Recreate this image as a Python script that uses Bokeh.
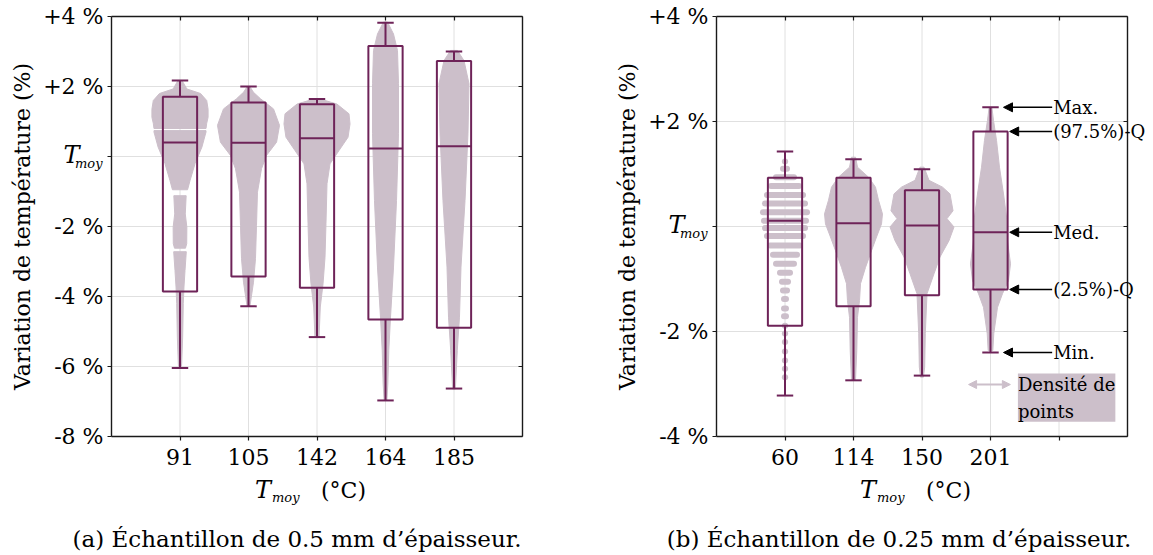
import numpy as np
from bokeh.plotting import figure
from bokeh.layouts import row
from bokeh.models import FixedTicker, LinearAxis, Label, Arrow, NormalHead, Range1d
from bokeh.embed import file_html
from bokeh.resources import INLINE

# ---------------- data: panel (a) 0.5 mm ----------------
cats_a = ["91", "105", "142", "164", "185"]
min_a = [-6.04, -4.28, -5.16, -6.97, -6.63]
q025_a = [-3.86, -3.43, -3.75, -4.66, -4.89]
med_a = [0.40, 0.39, 0.52, 0.23, 0.29]
q975_a = [1.71, 1.54, 1.49, 3.16, 2.73]
max_a = [2.17, 2.00, 1.64, 3.82, 3.00]

# point-density profiles: (value %, half width in category units); None = gap
dens_91 = [(2.17, 0.03), (1.93, 0.10), (1.80, 0.30), (1.60, 0.39), (1.35, 0.41), (1.12, 0.41),
           (0.95, 0.39), (0.80, 0.38), None,
           (0.74, 0.38), (0.70, 0.38), (0.27, 0.32), (-0.20, 0.22), (-0.69, 0.146), (-0.95, 0.11), None,
           (-1.12, 0.09), (-1.64, 0.077), (-2.02, 0.10), (-2.49, 0.098), (-2.62, 0.08), None,
           (-2.72, 0.092), (-3.26, 0.073), (-3.73, 0.058), (-4.20, 0.048), (-5.16, 0.039),
           (-5.90, 0.025), (-6.04, 0.02)]
dens_105 = [(2.00, 0.02), (1.84, 0.07), (1.65, 0.175), (1.36, 0.365), (0.89, 0.453), (0.41, 0.41),
            (0.03, 0.263), (-0.35, 0.19), (-1.02, 0.131), (-1.97, 0.117), (-2.92, 0.102),
            (-3.59, 0.073), (-4.16, 0.03), (-4.28, 0.02)]
dens_142 = [(1.64, 0.05), (1.50, 0.29), (1.22, 0.467), (0.93, 0.482), (0.55, 0.453), (0.17, 0.321),
            (-0.21, 0.19), (-0.78, 0.146), (-1.92, 0.131), (-2.88, 0.117), (-3.64, 0.088),
            (-4.30, 0.048), (-5.16, 0.03)]
dens_164 = [(3.84, 0.03), (3.50, 0.117), (3.03, 0.175), (2.08, 0.19), (0.65, 0.19), (-1.26, 0.161),
            (-3.16, 0.117), (-4.59, 0.073), (-5.54, 0.048), (-6.50, 0.034), (-6.97, 0.02)]
dens_185 = [(3.03, 0.05), (2.74, 0.146), (2.08, 0.219), (0.65, 0.204), (-1.26, 0.161),
            (-3.16, 0.102), (-4.59, 0.08), (-5.54, 0.048), (-6.64, 0.02)]

# ---------------- data: panel (b) 0.25 mm ----------------
cats_b = ["60", "114", "150", "201"]
min_b = [-3.22, -2.93, -2.84, -2.40]
q025_b = [-1.89, -1.52, -1.31, -1.20]
med_b = [0.11, 0.06, 0.02, -0.11]
q975_b = [0.93, 0.93, 0.69, 1.81]
max_b = [1.43, 1.28, 1.09, 2.27]

# sample 60 has quantised values: rows of points (value %, half width)
rows_60 = [(1.24, 0.039), (1.10, 0.073), (0.94, 0.175), (0.77, 0.248), (0.60, 0.307), (0.44, 0.336),
           (0.27, 0.365), (0.11, 0.35), (-0.03, 0.336), (-0.18, 0.307), (-0.36, 0.263),
           (-0.54, 0.219), (-0.71, 0.175), (-0.88, 0.117), (-1.05, 0.088), (-1.22, 0.073),
           (-1.38, 0.058), (-1.56, 0.058), (-1.71, 0.058), (-1.89, 0.044), (-2.04, 0.039),
           (-2.20, 0.039), (-2.38, 0.039), (-2.55, 0.039), (-2.71, 0.039), (-2.87, 0.039)]
dens_114 = [(1.32, 0.03), (1.13, 0.058), (0.94, 0.219), (0.75, 0.321), (0.50, 0.365), (0.24, 0.423),
            (0.05, 0.409), (-0.20, 0.336), (-0.46, 0.263), (-0.78, 0.175), (-1.09, 0.102),
            (-1.41, 0.088), (-1.73, 0.058), (-2.36, 0.048), (-2.93, 0.029)]
dens_150 = [(1.13, 0.03), (0.88, 0.102), (0.75, 0.30), (0.62, 0.409), (0.30, 0.453), (0.15, 0.365),
            (-0.01, 0.467), (-0.27, 0.394), (-0.58, 0.263), (-0.90, 0.175), (-1.28, 0.073),
            (-2.04, 0.048), (-2.68, 0.039), (-2.87, 0.02)]
dens_201 = [(2.27, 0.02), (2.02, 0.044), (1.64, 0.088), (1.13, 0.131), (0.62, 0.19), (0.18, 0.234),
            (-0.27, 0.248), (-0.71, 0.292), (-1.03, 0.263), (-1.28, 0.175), (-1.54, 0.102),
            (-2.04, 0.048), (-2.36, 0.034)]

ann_texts = ["Max.", "(97.5%)-Q", "Med.", "(2.5%)-Q", "Min."]
ylabel = "Variation de température (%)"
caption_a = "(a) Échantillon de 0.5 mm d’épaisseur."
caption_b = "(b) Échantillon de 0.25 mm d’épaisseur."

# ---------------- styles ----------------
FONT = "DejaVu Serif"
FS = "22px"
VIOLIN = "#CCBFCA"
BOXC = "#6E2358"
GRID = "#E0E0E0"
FRAME = "#1a1a1a"
BOX_HW = 0.25
CAP_HW = 0.12
PX_X = 68.5              # pixels per category unit
BOX_W, BOX_H = 411, 420  # plotting box size in pixels
H = 552


def violin_polys(xc, prof):
    pieces, cur = [], []
    for e in prof:
        if e is None:
            pieces.append(cur)
            cur = []
        else:
            cur.append(e)
    pieces.append(cur)
    xs, ys = [], []
    for pc in pieces:
        pc = sorted(pc)
        v = [a for a, b in pc]
        w = [b for a, b in pc]
        xs.append([xc + wi for wi in w] + [xc - wi for wi in reversed(w)])
        ys.append(v + v[::-1])
    return xs, ys


def lab(p, x, y, text, dx=0, dy=0, size=FS, style="normal", align="left", angle=0):
    p.add_layout(Label(x=x, y=y, x_offset=dx, y_offset=dy, text=text, text_font=FONT,
                       text_font_size=size, text_font_style=style, text_align=align,
                       text_baseline="middle", text_color="black", angle=angle))


def make_fig(width, left_px, ymin, ymax, yticks, xticks, xlabels, caption, cap_shift):
    top_px = 16
    px_y = BOX_H / (ymax - ymin)
    x0 = 0 - left_px / PX_X
    x1 = 6 + (width - left_px - BOX_W) / PX_X
    y1 = ymax + top_px / px_y
    y0 = ymin - (H - top_px - BOX_H) / px_y
    p = figure(width=width, height=H, x_range=Range1d(x0, x1), y_range=Range1d(y0, y1),
               output_backend="svg", toolbar_location=None,
               x_axis_location=None, y_axis_location=None, min_border=0,
               min_border_left=0, min_border_right=0, min_border_top=0, min_border_bottom=0)
    p.title.visible = False
    p.outline_line_color = None
    p.background_fill_color = "white"
    p.border_fill_color = "white"
    # remove the automatic full-canvas grids
    p.xgrid.visible = False
    p.ygrid.visible = False

    xt = FixedTicker(ticks=xticks)
    yt = FixedTicker(ticks=yticks)
    # grid lines, limited to the plotting box
    p.segment(x0=xticks, y0=[ymin] * len(xticks), x1=xticks, y1=[ymax] * len(xticks),
              line_color=GRID, line_width=1)
    p.segment(x0=[0] * len(yticks), y0=yticks, x1=[6] * len(yticks), y1=yticks,
              line_color=GRID, line_width=1)

    ylab = {}
    for t in yticks:
        if t == 0:
            ylab[t] = ""
        elif t > 0:
            ylab[t] = "+%d %%" % t
        else:
            ylab[t] = "-%d %%" % abs(t)
    common = dict(minor_tick_line_color=None, axis_line_color=FRAME, axis_line_width=1.4,
                  major_tick_line_color=FRAME, major_tick_line_width=1.2,
                  major_label_text_font=FONT,
                  major_label_text_font_size=FS, major_label_text_color="black")
    left = LinearAxis(fixed_location=0, ticker=yt, bounds=(ymin, ymax),
                      major_label_overrides=ylab, major_tick_in=0, major_tick_out=4,
                      major_label_standoff=4, **common)
    bottom = LinearAxis(fixed_location=ymin, ticker=xt, bounds=(0, 6),
                        major_label_overrides={t: l for t, l in zip(xticks, xlabels)},
                        major_tick_in=0, major_tick_out=4, major_label_standoff=8, **common)
    common["major_label_text_font_size"] = "2px"
    top = LinearAxis(fixed_location=ymax, ticker=xt, bounds=(0, 6),
                     major_label_overrides={t: "" for t in xticks},
                     major_tick_in=4, major_tick_out=0, major_label_standoff=0, **common)
    right = LinearAxis(fixed_location=6, ticker=yt, bounds=(ymin, ymax),
                       major_label_overrides={t: "" for t in yticks},
                       major_tick_in=4, major_tick_out=0, major_label_standoff=0, **common)
    p.add_layout(left, "left")
    p.add_layout(bottom, "below")
    p.add_layout(top, "above")
    p.add_layout(right, "right")

    # tick label "T_moy" at 0 (italic T + subscript)
    lab(p, 0, 0, "T", dx=-32, dy=2, size="24px", style="italic", align="right")
    lab(p, 0, 0, "moy", dx=-9, dy=-7, size="13px", style="italic", align="right")
    # y axis title
    lab(p, 0, (ymin + ymax) / 2, ylabel, dx=-89, align="center", angle=np.pi / 2)
    # x axis title "T_moy (°C)"
    lab(p, 3, ymin, "T", dx=-46, dy=-53, size="24px", style="italic", align="right")
    lab(p, 3, ymin, "moy", dx=-45, dy=-61, size="13px", style="italic", align="left")
    lab(p, 3, ymin, "(°C)", dx=4, dy=-54, align="left")
    # caption
    lab(p, 3, ymin, caption, dx=cap_shift, dy=-102, size="23px", align="center")
    return p


def draw_boxes(p, xs, mn, q1, md, q3, mx):
    xs = np.asarray(xs, dtype=float)
    p.quad(left=xs - BOX_HW, right=xs + BOX_HW, bottom=q1, top=q3, fill_alpha=0,
           line_color=BOXC, line_width=2)
    p.segment(x0=xs - BOX_HW, y0=md, x1=xs + BOX_HW, y1=md, line_color=BOXC, line_width=2)
    p.segment(x0=xs, y0=q3, x1=xs, y1=mx, line_color=BOXC, line_width=2)
    p.segment(x0=xs, y0=q1, x1=xs, y1=mn, line_color=BOXC, line_width=2)
    p.segment(x0=xs - CAP_HW, y0=mx, x1=xs + CAP_HW, y1=mx, line_color=BOXC, line_width=2)
    p.segment(x0=xs - CAP_HW, y0=mn, x1=xs + CAP_HW, y1=mn, line_color=BOXC, line_width=2)


# ---------------- panel (a) ----------------
pa = make_fig(608, 111, -8, 4, [-8, -6, -4, -2, 0, 2, 4], [1, 2, 3, 4, 5], cats_a,
              caption_a, -20)
xa = [1, 2, 3, 4, 5]
for xc, prof in zip(xa, [dens_91, dens_105, dens_142, dens_164, dens_185]):
    vx, vy = violin_polys(xc, prof)
    pa.patches(vx, vy, fill_color=VIOLIN, line_color=VIOLIN, line_width=1)
draw_boxes(pa, xa, min_a, q025_a, med_a, q975_a, max_a)

# ---------------- panel (b) ----------------
pb = make_fig(542, 108, -4, 4, [-4, -2, 0, 2, 4], [1, 2, 3, 4, 5], cats_b + [""],
              caption_b, -23)
xb = [1, 2, 3, 4]
R = 3 / PX_X  # dot radius in category units
rv = [r[0] for r in rows_60]
rw = [max(r[1] - R, 0.002) for r in rows_60]
pb.segment(x0=[1 - w for w in rw], y0=rv, x1=[1 + w for w in rw], y1=rv,
           line_color=VIOLIN, line_width=6, line_cap="round")
for xc, prof in zip(xb[1:], [dens_114, dens_150, dens_201]):
    vx, vy = violin_polys(xc, prof)
    pb.patches(vx, vy, fill_color=VIOLIN, line_color=VIOLIN, line_width=1)
draw_boxes(pb, xb, min_b, q025_b, med_b, q975_b, max_b)

# annotation of the last box
i = 3
ann_vals = [max_b[i], q975_b[i], med_b[i], q025_b[i], min_b[i]]
ann_tip = [CAP_HW + 0.07, BOX_HW + 0.03, BOX_HW + 0.03, BOX_HW + 0.03, CAP_HW + 0.07]
TXT_X = 4.9
for v, tip, txt in zip(ann_vals, ann_tip, ann_texts):
    pb.add_layout(Arrow(x_start=TXT_X, y_start=v, x_end=xb[i] + tip, y_end=v,
                        line_color="black", line_width=1.5,
                        end=NormalHead(size=9, fill_color="black", line_color="black")))
    lab(pb, TXT_X, v, txt, dx=1, size="18px")

# density legend
pb.add_layout(Arrow(x_start=3.68, y_start=-3.01, x_end=4.29, y_end=-3.01,
                    line_color=VIOLIN, line_width=2,
                    start=NormalHead(size=8, fill_color=VIOLIN, line_color=VIOLIN),
                    end=NormalHead(size=8, fill_color=VIOLIN, line_color=VIOLIN)))
pb.add_layout(Label(x=4.40, y=-2.80, text="Densité de\npoints", text_font=FONT,
                    text_font_size="18px", text_align="left", text_baseline="top",
                    text_color="black", background_fill_color=VIOLIN, text_line_height=1.3))

layout = row(pa, pb)
open("out.html", "w").write(file_html(layout, INLINE))
